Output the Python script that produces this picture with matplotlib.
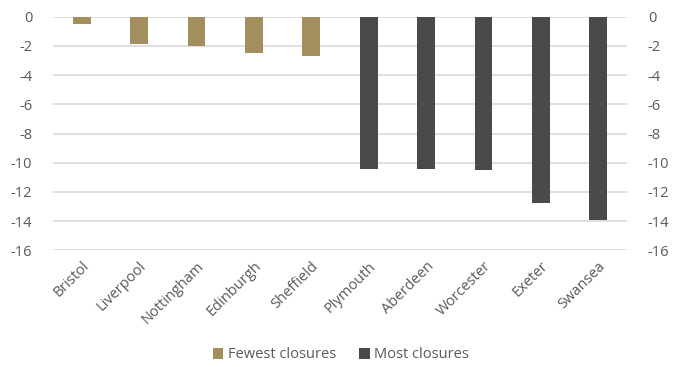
import matplotlib
matplotlib.use("Agg")
import matplotlib.pyplot as plt
from matplotlib.patches import Patch

cities = ["Bristol", "Liverpool", "Nottingham", "Edinburgh", "Sheffield",
          "Plymouth", "Aberdeen", "Worcester", "Exeter", "Swansea"]
fewest = [-0.5, -1.9, -2.0, -2.47, -2.7]
most = [-10.43, -10.43, -10.53, -12.73, -13.94]
series_names = ["Fewest closures", "Most closures"]
yticks = [0, -2, -4, -6, -8, -10, -12, -14, -16]

gold = "#A38F5E"
dark = "#4A4A4A"
text_col = "#595959"
grid_col = "#D9D9D9"
fs = 10.5

plt.rcParams["font.family"] = ["Open Sans", "DejaVu Sans"]

fig = plt.figure(figsize=(6.82, 3.67), dpi=100)
ax = fig.add_axes([53 / 682, 1 - 250.3 / 367, 574 / 682, (250.3 - 16.7) / 367])

x_few = list(range(len(fewest)))
x_most = list(range(len(fewest), len(cities)))
ax.bar(x_few, fewest, width=0.31, color=gold, zorder=3)
ax.bar(x_most, most, width=0.31, color=dark, zorder=3)

ax.set_xlim(-0.5, len(cities) - 0.5)
ax.set_ylim(-16, 0)
ax.set_yticks(yticks)
ax.set_yticklabels([str(v) for v in yticks])
ax.yaxis.grid(True, color=grid_col, linewidth=1.2, zorder=0)
for s in ax.spines.values():
    s.set_visible(False)

# same value scale labelled on both sides
ax.tick_params(axis="y", length=0, labelsize=fs, colors=text_col, pad=15,
               labelright=True, labelleft=True)
ax.set_xticks(range(len(cities)))
ax.set_xticklabels(cities, rotation=45, ha="right", rotation_mode="anchor")
ax.tick_params(axis="x", length=0, labelsize=fs, colors=text_col, pad=6)

handles = [Patch(facecolor=gold, label=series_names[0]),
           Patch(facecolor=dark, label=series_names[1])]
fig.legend(handles=handles, loc="center", bbox_to_anchor=(0.5, 1 - 355 / 367),
           ncol=2, frameon=False, fontsize=fs, labelcolor=text_col,
           handlelength=0.7, handleheight=0.7, handletextpad=0.3, columnspacing=1.6)

fig.savefig("out.png", dpi=100)
